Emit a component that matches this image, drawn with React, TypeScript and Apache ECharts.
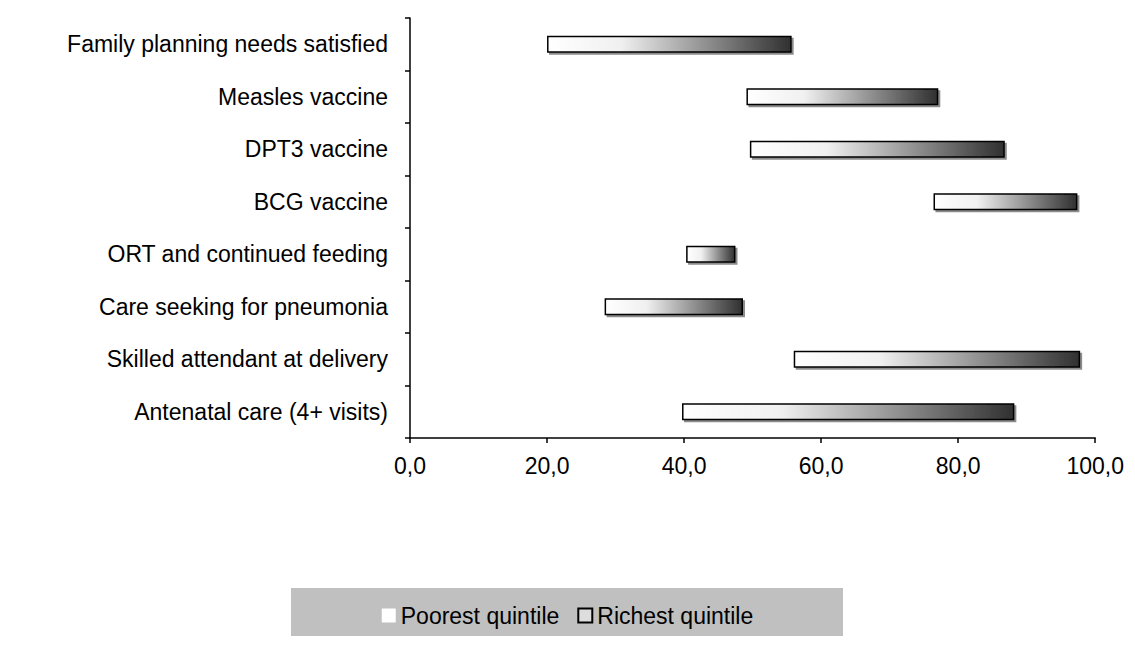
import { useEffect, useRef } from "react";
import * as echarts from "echarts";

const categories = [
  "Family planning needs satisfied",
  "Measles vaccine",
  "DPT3 vaccine",
  "BCG vaccine",
  "ORT and continued feeding",
  "Care seeking for pneumonia",
  "Skilled attendant at delivery",
  "Antenatal care (4+ visits)",
];
const poorest = [20.0, 49.1, 49.6, 76.4, 40.3, 28.4, 56.0, 39.7];
const richest = [55.7, 77.1, 86.8, 97.4, 47.5, 48.6, 97.8, 88.2];

export default function App() {
  const ref = useRef<HTMLDivElement>(null);

  useEffect(() => {
    if (!ref.current) return;
    const chart = echarts.init(ref.current, undefined, { renderer: "svg" });
    const font = "Liberation Sans, Arial, sans-serif";
    chart.setOption({
      animation: false,
      backgroundColor: "#fff",
      textStyle: { fontFamily: font },
      grid: { left: 402, right: 30, top: 10, bottom: 218 },
      graphic: [
        {
          type: "rect",
          shape: { x: 283, y: 580, width: 552, height: 48 },
          style: { fill: "#c0c0c0" },
          z: -1,
        },
      ],
      legend: {
        left: "center",
        top: 591,
        itemWidth: 14,
        itemHeight: 14,
        itemGap: 18,
        textStyle: { fontSize: 23, color: "#000", fontFamily: font },
        data: [
          { name: "Poorest quintile", icon: "rect", itemStyle: { color: "#fff", borderWidth: 0 } },
          { name: "Richest quintile", icon: "rect", itemStyle: { color: "#ddd", borderColor: "#000", borderWidth: 2 } },
        ],
      },
      xAxis: {
        type: "value",
        min: 0,
        max: 100,
        interval: 20,
        axisLine: { show: true, lineStyle: { color: "#000", width: 1.5 } },
        axisTick: { show: true, length: 5, lineStyle: { color: "#000", width: 1.5 } },
        splitLine: { show: false },
        axisLabel: { color: "#000", fontSize: 23, margin: 16, formatter: (v: number) => v.toFixed(1).replace(".", ",") },
      },
      yAxis: {
        type: "category",
        inverse: true,
        data: categories,
        axisLine: { show: true, lineStyle: { color: "#000", width: 1.5 } },
        axisTick: { show: true, length: 5, lineStyle: { color: "#000", width: 1.5 } },
        axisLabel: { color: "#000", fontSize: 23, margin: 22 },
      },
      series: [
        {
          name: "Poorest quintile",
          type: "bar",
          stack: "r",
          data: poorest,
          itemStyle: { color: "transparent" },
          barWidth: 17,
          silent: true,
        },
        {
          name: "Richest quintile",
          type: "bar",
          stack: "r",
          data: richest.map((r, i) => +(r - poorest[i]).toFixed(1)),
          barWidth: 17,
          itemStyle: {
            color: new echarts.graphic.LinearGradient(0, 0, 1, 0, [
              { offset: 0, color: "#ffffff" },
              { offset: 0.3, color: "#f0f0f0" },
              { offset: 1, color: "#303030" },
            ]),
            borderColor: "#000",
            borderWidth: 1.5,
            shadowColor: "rgba(0,0,0,0.45)",
            shadowOffsetX: 2,
            shadowOffsetY: 2,
          },
        },
      ],
    });
    return () => chart.dispose();
  }, []);

  return <div ref={ref} style={{ width: 1119, height: 648 }} />;
}
